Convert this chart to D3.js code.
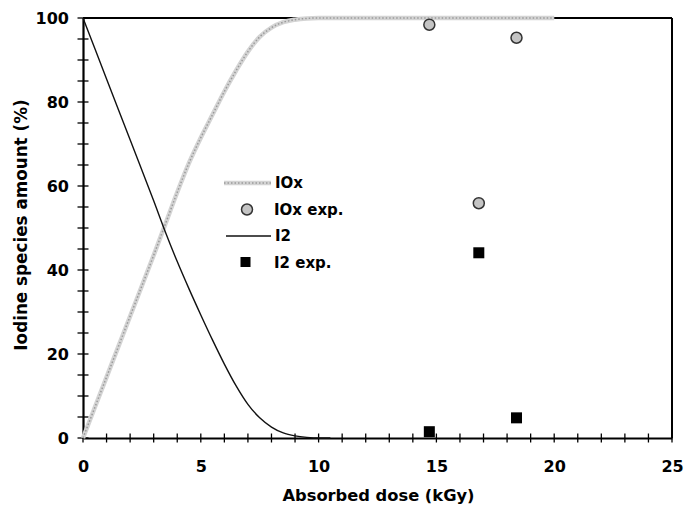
<!DOCTYPE html>
<html>
<head>
<meta charset="utf-8">
<script src="https://cdn.jsdelivr.net/npm/d3@7"></script>
<style>
  body { margin: 0; background: #fff; }
  text { font-family: "DejaVu Sans", sans-serif; font-weight: bold; }
</style>
</head>
<body>
<svg id="chart" width="697" height="511"></svg>
<script>
// model curves
const ioxDose = [0, 1, 2, 3, 3.5, 4, 4.5, 5, 5.5, 6, 6.5, 7, 7.5, 8, 8.5, 9, 9.5, 10, 12, 14, 16, 18, 20];
const ioxPct = [0, 14.5, 29, 43.5, 51, 58.5, 65.5, 71.5, 77, 82.5, 87.5, 92, 95.5, 97.7, 99, 99.6, 99.9, 100, 100, 100, 100, 100, 100];
const i2Dose = [0, 1, 2, 3, 3.5, 4, 4.5, 5, 5.5, 6, 6.5, 7, 7.5, 8, 8.5, 9, 9.5, 10, 10.5];
const i2Pct = [100, 85.5, 71, 56.5, 49, 42, 35.5, 29.3, 23.3, 17.6, 12.4, 8.0, 4.8, 2.6, 1.2, 0.5, 0.15, 0, 0];

// experimental points
const expDose = [14.7, 16.8, 18.4];
const ioxExp = [98.4, 55.9, 95.3];
const i2Exp = [1.5, 44.1, 4.8];

const xTicks = [0, 5, 10, 15, 20, 25];
const yTicks = [0, 20, 40, 60, 80, 100];
const legendLabels = ['IOx', 'IOx exp.', 'I2', 'I2 exp.'];

const margin = { top: 18, right: 25, bottom: 73, left: 83 };
const width = 697 - margin.left - margin.right;
const height = 511 - margin.top - margin.bottom;

const svg = d3.select('#chart')
    .append('g')
    .attr('transform', `translate(${margin.left}, ${margin.top})`);

const x = d3.scaleLinear().domain([0, 25]).range([0, width]);
const y = d3.scaleLinear().domain([0, 100]).range([height, 0]);

const zip = (xs, ys) => xs.map((d, i) => [d, ys[i]]);
const line = d3.line()
    .x((d) => x(d[0]))
    .y((d) => y(d[1]))
    .curve(d3.curveMonotoneX);

// frame (top and right)
svg.append('line').attr('x1', 0).attr('x2', width).attr('y1', 0).attr('y2', 0)
    .attr('stroke', '#000').attr('stroke-width', 2);
svg.append('line').attr('x1', width).attr('x2', width).attr('y1', 0).attr('y2', height)
    .attr('stroke', '#000').attr('stroke-width', 2);

// minor ticks crossing the axes
svg.append('g').selectAll('line')
    .data(d3.range(0, 26, 1))
    .enter().append('line')
    .attr('x1', (d) => x(d)).attr('x2', (d) => x(d))
    .attr('y1', height - 4.5).attr('y2', height + 4.5)
    .attr('stroke', '#000').attr('stroke-width', 1.3);
svg.append('g').selectAll('line')
    .data(d3.range(0, 101, 5))
    .enter().append('line')
    .attr('x1', -5.5).attr('x2', 5.5)
    .attr('y1', (d) => y(d)).attr('y2', (d) => y(d))
    .attr('stroke', '#000').attr('stroke-width', 1.3);

// axes
const xAxis = svg.append('g')
    .attr('transform', `translate(0, ${height})`)
    .call(d3.axisBottom(x).tickValues(xTicks).tickSize(0).tickPadding(23));
const yAxis = svg.append('g')
    .call(d3.axisLeft(y).tickValues(yTicks).tickSize(0).tickPadding(14));
[xAxis, yAxis].forEach((g) => {
    g.select('.domain').attr('stroke', '#000').attr('stroke-width', 2.2);
    g.selectAll('text').style('font-size', '16px').style('font-family', '"DejaVu Sans", sans-serif')
        .style('font-weight', 'bold').attr('fill', '#000');
});

// axis titles
svg.append('text')
    .attr('x', width / 2 + 1)
    .attr('y', height + 63)
    .attr('text-anchor', 'middle')
    .style('font-size', '16.3px')
    .text('Absorbed dose (kGy)');
svg.append('text')
    .attr('transform', 'rotate(-90)')
    .attr('x', -height / 2 + 3)
    .attr('y', -56)
    .attr('text-anchor', 'middle')
    .style('font-size', '16.8px')
    .text('Iodine species amount (%)');

// IOx model: textured grey band
svg.append('path')
    .datum(zip(ioxDose, ioxPct))
    .attr('d', line)
    .attr('fill', 'none')
    .attr('stroke', '#d4d4d4')
    .attr('stroke-width', 4.5);
svg.append('path')
    .datum(zip(ioxDose, ioxPct))
    .attr('d', line)
    .attr('fill', 'none')
    .attr('stroke', '#9a9a9a')
    .attr('stroke-width', 1.5)
    .attr('stroke-dasharray', '1.5,2');

// I2 model
svg.append('path')
    .datum(zip(i2Dose, i2Pct))
    .attr('d', line)
    .attr('fill', 'none')
    .attr('stroke', '#111')
    .attr('stroke-width', 1.4);

// experimental points
svg.append('g').selectAll('circle')
    .data(zip(expDose, ioxExp))
    .enter().append('circle')
    .attr('cx', (d) => x(d[0]))
    .attr('cy', (d) => y(d[1]))
    .attr('r', 5.5)
    .attr('fill', '#c4c4c4')
    .attr('stroke', '#333')
    .attr('stroke-width', 1.5);
const sq = 11;
svg.append('g').selectAll('rect')
    .data(zip(expDose, i2Exp))
    .enter().append('rect')
    .attr('x', (d) => x(d[0]) - sq / 2)
    .attr('y', (d) => y(d[1]) - sq / 2)
    .attr('width', sq)
    .attr('height', sq)
    .attr('fill', '#000');

// legend
const legend = svg.append('g').attr('transform', 'translate(141, 165)');
const rowH = 26.5;
legend.selectAll('text')
    .data(legendLabels)
    .enter().append('text')
    .attr('x', (d, i) => (i === 0 || i === 2 ? 51 : 50))
    .attr('y', (d, i) => i * rowH)
    .attr('dy', '0.35em')
    .style('font-size', '15px')
    .text((d) => d);
legend.append('line').attr('x1', 0).attr('x2', 47).attr('y1', 0).attr('y2', 0)
    .attr('stroke', '#d4d4d4').attr('stroke-width', 4.5);
legend.append('line').attr('x1', 0).attr('x2', 47).attr('y1', 0).attr('y2', 0)
    .attr('stroke', '#9a9a9a').attr('stroke-width', 1.5).attr('stroke-dasharray', '1.5,2');
legend.append('circle').attr('cx', 23).attr('cy', rowH).attr('r', 5.5)
    .attr('fill', '#c4c4c4').attr('stroke', '#333').attr('stroke-width', 1.5);
legend.append('line').attr('x1', 2).attr('x2', 47).attr('y1', 2 * rowH).attr('y2', 2 * rowH)
    .attr('stroke', '#111').attr('stroke-width', 1.4);
legend.append('rect').attr('x', 21 - sq / 2 + 1).attr('y', 3 * rowH - sq / 2).attr('width', sq - 1).attr('height', sq - 1)
    .attr('fill', '#000');
</script>
</body>
</html>
